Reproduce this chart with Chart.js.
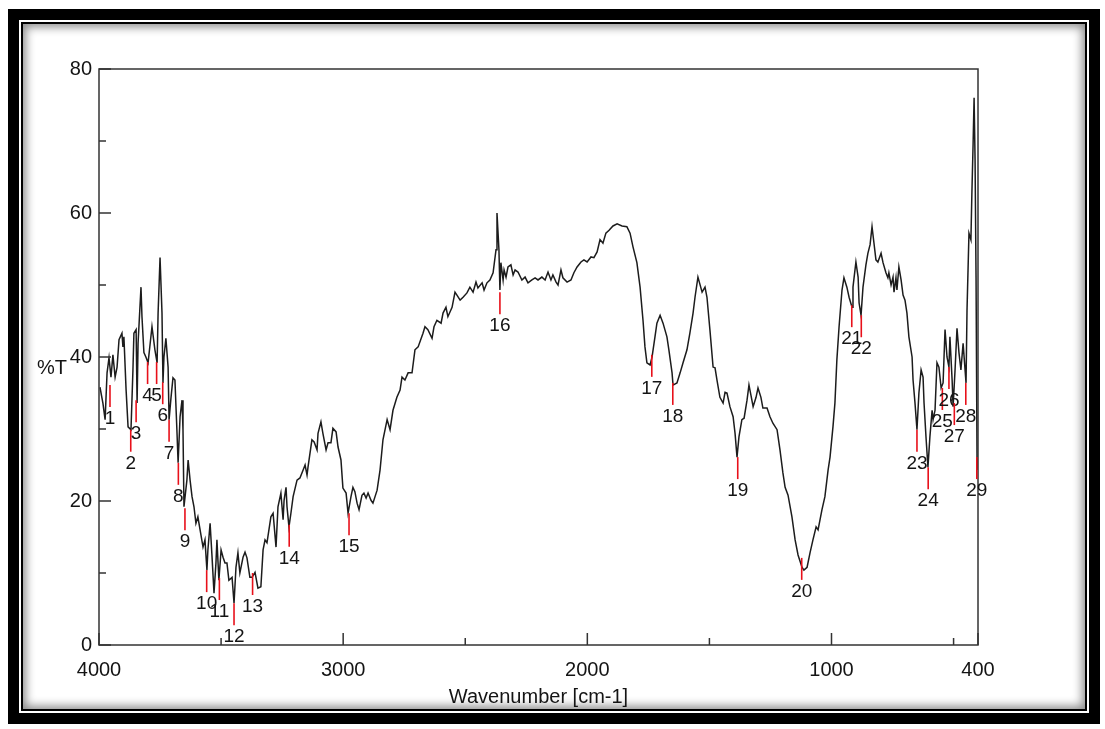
<!DOCTYPE html>
<html>
<head>
<meta charset="utf-8">
<script src="https://cdn.jsdelivr.net/npm/chart.js@4/dist/chart.umd.min.js"></script>
<style>
  html, body { margin: 0; padding: 0; background: #fff; }
  body { width: 1105px; height: 729px; position: relative; overflow: hidden; }
  .outer { position: absolute; left: 8px; top: 9px; width: 1092px; height: 715px; background: #000; }
  .gap { position: absolute; left: 11px; top: 11px; right: 11px; bottom: 11px; background: #fff; }
  .inner { position: absolute; left: 2px; top: 2px; right: 2px; bottom: 2px; border: 2px solid #000;
           background: #fff; box-shadow: inset 0 0 10px 3px rgba(0,0,0,0.45); }
  canvas { position: absolute; left: 0; top: 0; }
</style>
</head>
<body>
<div class="outer"><div class="gap"><div class="inner"></div></div></div>
<canvas id="ir" width="1105" height="729"></canvas>
<script>
// spectrum: wavenumber (cm-1) and %T
const WN = [3996,3984,3975,3967,3959,3951,3943,3934,3926,3918,3906,3902,3898,3889,3881,3869,3861,3857,3848,3844,3840,3828,3824,3816,3808,3799,3791,3783,3771,3762,3758,3750,3742,3738,3734,3726,3717,3713,3705,3697,3689,3681,3676,3668,3660,3656,3652,3640,3635,3627,3619,3611,3603,3595,3586,3574,3566,3558,3554,3545,3537,3529,3521,3517,3509,3500,3492,3484,3476,3468,3455,3447,3439,3431,3423,3410,3402,3394,3382,3373,3361,3349,3337,3328,3320,3312,3296,3287,3275,3267,3255,3246,3242,3234,3230,3222,3214,3205,3189,3177,3164,3156,3148,3144,3128,3119,3107,3103,3091,3083,3070,3062,3050,3042,3029,3021,3009,3001,2988,2980,2968,2960,2952,2943,2935,2923,2915,2906,2898,2886,2878,2861,2849,2837,2820,2808,2796,2780,2767,2759,2747,2734,2718,2706,2693,2673,2665,2653,2636,2628,2616,2599,2591,2579,2571,2554,2542,2534,2521,2509,2493,2481,2468,2456,2448,2431,2423,2411,2399,2386,2374,2370,2362,2358,2354,2345,2341,2333,2325,2313,2304,2296,2284,2268,2255,2243,2227,2214,2202,2186,2173,2161,2149,2141,2128,2120,2108,2100,2083,2067,2055,2042,2026,2014,2001,1985,1973,1960,1948,1936,1924,1911,1895,1878,1858,1838,1825,1813,1797,1784,1772,1764,1756,1743,1735,1723,1715,1702,1690,1674,1666,1653,1649,1633,1620,1608,1592,1580,1567,1559,1547,1530,1518,1510,1498,1485,1477,1469,1457,1444,1436,1428,1416,1403,1395,1387,1379,1367,1358,1346,1338,1330,1321,1309,1301,1289,1281,1264,1252,1240,1223,1211,1199,1190,1178,1162,1149,1137,1121,1113,1100,1088,1076,1063,1055,1039,1027,1014,1006,994,986,978,969,957,949,937,928,916,912,900,891,887,879,871,859,851,842,834,826,818,810,797,789,777,769,765,756,748,744,736,732,724,715,707,699,691,683,670,666,658,650,642,633,625,621,613,605,597,588,584,576,568,560,551,543,535,527,519,515,506,502,494,486,478,470,461,449,445,437,429,425,420,416,412,408,404,400];
const T = [35.8,33.6,31.3,37.8,39.9,37.2,40.3,37.2,38.6,42.4,43.3,41.4,42.8,35.4,30.3,29.9,38.2,43.3,43.8,33.6,41.9,49.7,45.6,40.6,40.0,39.2,41.7,44.2,41.0,39.2,46.1,53.8,46.1,36.4,40.0,42.6,38.6,31.3,34.4,37.1,36.8,29.9,25.3,31.7,34.0,29.9,19.2,22.9,25.7,22.9,20.6,19.2,16.9,17.8,16.0,13.6,14.6,10.4,13.2,16.9,12.2,7.2,11.4,14.6,9.0,13.2,12.2,11.4,11.4,9.0,9.4,5.8,10.8,12.8,10.0,12.2,12.9,12.1,9.4,9.4,10.1,7.9,8.1,13.2,14.6,14.2,17.8,18.3,13.6,19.2,21.1,17.4,20.1,21.9,19.2,16.4,18.3,20.6,22.9,23.2,24.3,25.0,23.6,24.7,28.5,28.2,27.1,29.4,31.0,29.4,27.1,28.1,28.1,30.1,29.6,27.5,25.7,21.8,21.1,18.3,20.6,21.9,21.3,19.7,18.8,20.8,21.1,20.4,21.1,20.1,19.7,21.5,24.3,28.5,31.3,29.9,32.6,34.4,35.4,37.2,36.8,37.8,37.8,41.0,41.4,43.3,44.2,43.8,42.6,44.2,45.1,44.7,46.1,46.9,45.6,46.9,49.0,48.6,47.9,48.3,48.9,49.7,49.0,50.4,49.6,50.3,49.3,50.3,50.7,51.7,54.9,60.0,54.9,49.3,53.1,50.7,52.1,51.1,52.5,52.8,51.4,52.1,51.8,50.7,51.1,50.3,50.7,51.0,50.7,51.1,50.7,51.8,50.7,51.4,50.4,50.0,52.1,51.0,50.4,50.7,51.7,52.5,53.2,53.5,53.2,53.9,53.8,54.6,56.3,55.8,57.2,57.6,58.2,58.5,58.2,58.1,57.2,55.3,53.1,49.7,45.1,41.4,39.2,38.9,40.0,42.8,44.7,45.8,44.7,42.8,41.0,37.8,36.1,36.4,37.8,39.2,41.0,43.3,46.1,48.3,51.1,49.0,49.7,48.3,43.8,38.6,38.5,36.8,34.4,33.6,35.1,35.0,33.1,31.7,29.4,26.1,28.9,31.3,31.5,34.0,36.1,34.7,33.1,34.4,35.7,34.4,32.9,32.9,31.7,30.8,29.9,27.1,23.9,21.9,20.8,17.8,14.6,12.5,10.8,10.4,10.8,12.8,14.6,16.4,16.0,18.8,20.6,24.3,26.1,30.3,33.6,39.6,44.2,49.3,51.0,49.7,48.3,46.9,49.7,53.2,51.1,47.5,45.8,49.7,52.8,54.4,55.6,58.1,55.8,53.5,53.2,54.4,53.1,51.7,51.0,51.7,50.0,51.1,49.0,51.0,49.3,52.5,50.7,48.6,47.9,46.1,42.8,40.0,36.8,33.6,29.9,35.0,38.2,37.2,33.6,28.9,24.7,28.9,32.6,31.3,32.6,39.2,38.6,35.7,36.4,43.8,40.0,38.6,42.8,36.8,33.1,38.2,44.0,40.6,38.2,41.9,36.4,46.5,57.2,56.3,62.8,69.7,76.0,67.4,51.1,26.1,24.3];

// picked peaks
const PEAK_LABELS = ['1','2','3','4','5','6','7','8','9','10','11','12','13','14','15','16','17','18','19','20','21','22','23','24','25','26','27','28','29'];
const PEAK_WN = [3955,3870,3848,3801,3764,3739,3713,3675,3648,3559,3507,3447,3371,3221,2976,2358,1736,1650,1384,1122,917,878,650,604,546,519,497,450,405];
const PEAK_T = [36.1,29.9,34.0,39.3,39.3,36.5,31.3,25.3,19.0,10.4,9.3,5.8,10.0,16.7,18.3,49.0,40.3,36.4,26.1,12.1,47.2,45.8,29.9,24.7,35.7,38.6,33.6,36.4,26.1];

const X_TICKS = [4000, 3000, 2000, 1000, 400];
const X_MINOR = [3500, 2500, 1500, 500];
const Y_TICKS = [0, 20, 40, 60, 80];
const Y_MINOR = [10, 30, 50, 70];

const FONT = '"Liberation Sans", Arial, sans-serif';
const INK = '#141414';

const extras = {
  id: 'extras',
  afterDatasetsDraw(chart) {
    const {ctx, chartArea: a, scales: {x, y}} = chart;
    ctx.save();
    // frame of the plot
    ctx.strokeStyle = '#333';
    ctx.lineWidth = 1.5;
    ctx.strokeRect(a.left, a.top, a.right - a.left, a.bottom - a.top);
    // inward ticks
    ctx.beginPath();
    X_TICKS.forEach(v => { const px = x.getPixelForValue(v); ctx.moveTo(px, a.bottom); ctx.lineTo(px, a.bottom - 12); });
    X_MINOR.forEach(v => { const px = x.getPixelForValue(v); ctx.moveTo(px, a.bottom); ctx.lineTo(px, a.bottom - 7); });
    Y_TICKS.forEach(v => { const py = y.getPixelForValue(v); ctx.moveTo(a.left, py); ctx.lineTo(a.left + 12, py); });
    Y_MINOR.forEach(v => { const py = y.getPixelForValue(v); ctx.moveTo(a.left, py); ctx.lineTo(a.left + 7, py); });
    ctx.stroke();

    // peak picks
    ctx.font = '19px ' + FONT;
    ctx.textAlign = 'center';
    ctx.textBaseline = 'middle';
    PEAK_WN.forEach((w, i) => {
      const px = x.getPixelForValue(w);
      const py = y.getPixelForValue(PEAK_T[i]);
      ctx.strokeStyle = '#e8101a';
      ctx.lineWidth = 1.6;
      ctx.beginPath();
      ctx.moveTo(px, py);
      ctx.lineTo(px, py + 22);
      ctx.stroke();
      ctx.fillStyle = INK;
      ctx.fillText(PEAK_LABELS[i], px, py + 34);
    });

    // axis titles
    ctx.font = '20px ' + FONT;
    ctx.fillText('%T', 52, 368);
    ctx.fillText('Wavenumber [cm-1]', (a.left + a.right) / 2, 697);
    ctx.restore();
  }
};

new Chart(document.getElementById('ir'), {
  type: 'line',
  data: {
    datasets: [{
      data: WN.map((w, i) => ({x: w, y: T[i]})),
      borderColor: '#1c1c1c',
      borderWidth: 1.5,
      pointRadius: 0,
      tension: 0,
      fill: false,
    }]
  },
  options: {
    responsive: false,
    animation: false,
    layout: { padding: { left: 0, right: 127, top: 69, bottom: 0 } },
    plugins: { legend: { display: false }, tooltip: { enabled: false } },
    scales: {
      x: {
        type: 'linear',
        reverse: true,
        min: 400,
        max: 4000,
        afterBuildTicks: s => { s.ticks = X_TICKS.map(v => ({value: v})); },
        afterFit: s => { s.height = 84; },
        grid: { display: false, drawTicks: false },
        border: { display: false },
        ticks: { color: INK, font: { family: FONT, size: 20 }, padding: 13, maxRotation: 0, autoSkip: false, callback: v => v },
      },
      y: {
        min: 0,
        max: 80,
        afterBuildTicks: s => { s.ticks = Y_TICKS.map(v => ({value: v})); },
        afterFit: s => { s.width = 99; },
        grid: { display: false, drawTicks: false },
        border: { display: false },
        ticks: { color: INK, font: { family: FONT, size: 20 }, padding: 7, callback: v => v },
      }
    }
  },
  plugins: [extras]
})
</script>
</body>
</html>
